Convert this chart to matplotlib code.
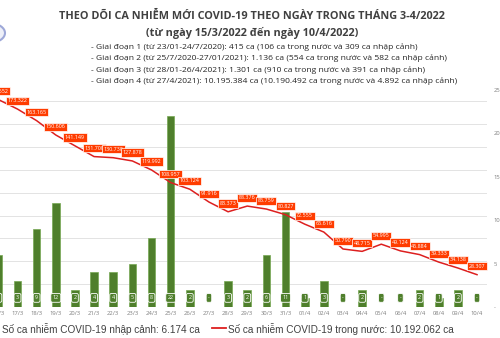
import matplotlib
matplotlib.use('Agg')
import matplotlib.pyplot as plt
import numpy as np
from matplotlib.lines import Line2D
from matplotlib.patches import Circle
from matplotlib.ticker import FuncFormatter, FixedLocator

plt.rcParams['font.family'] = ['Open Sans', 'DejaVu Sans']

# du lieu theo ngay 15/3 - 10/4/2022
dates = ['15/3', '16/3', '17/3', '18/3', '19/3', '20/3', '21/3', '22/3', '23/3',
         '24/3', '25/3', '26/3', '27/3', '28/3', '29/3', '30/3', '31/3',
         '01/4', '02/4', '03/4', '04/4', '05/4', '06/4', '07/4', '08/4', '09/4', '10/4']
# ca trong nuoc (duong do)
domestic = [170000, 181652, 173322, 163165, 150606, 141149, 131700, 130730, 127878,
            119992, 108957, 103124, 91916, 83373, 88376, 85759, 80827,
            72555, 65616, 50790, 48715, 54995, 49124, 45884, 39333, 34138, 28307]
# ca nhap canh (cot xanh)
imported = [4, 6, 3, 9, 12, 2, 4, 4, 5, 8, 22, 2, 0, 3, 2, 6, 11,
            1, 3, 0, 2, 0, 0, 2, 1, 2, 0]

title = 'THEO DÕI CA NHIỄM MỚI COVID-19 THEO NGÀY TRONG THÁNG 3-4/2022'
subtitle = '(từ ngày 15/3/2022 đến ngày 10/4/2022)'
notes = ['- Giai đoạn 1 (từ 23/01-24/7/2020): 415 ca (106 ca trong nước và 309 ca nhập cảnh)',
         '- Giai đoạn 2 (từ 25/7/2020-27/01/2021): 1.136 ca (554 ca trong nước và 582 ca nhập cảnh)',
         '- Giai đoạn 3 (từ 28/01-26/4/2021): 1.301 ca (910 ca trong nước và 391 ca nhập cảnh)',
         '- Giai đoạn 4 (từ 27/4/2021): 10.195.384 ca (10.190.492 ca trong nước và 4.892 ca nhập cảnh)']
legend_bar = 'Số ca nhiễm COVID-19 nhập cảnh: 6.174 ca'
legend_line = 'Số ca nhiễm COVID-19 trong nước: 10.192.062 ca'

W, H = 500, 338
GREEN = '#4f7f2c'
RED = '#dd1f1f'
LABEL_RED = '#ff3c00'


def fx(p):
    return p / W


def fy(p):
    return 1 - p / H


def vn(v):
    return f'{v:,}'.replace(',', '.')


fig = plt.figure(figsize=(5, 3.38), dpi=100, facecolor='white')

x = np.arange(len(dates))
line_max = 190000
bar_max = 25

# truc cot (ben phai)
ax = fig.add_axes([fx(-30.4), fy(307), fx(517), 217 / H])
ax.set_xlim(-0.5, len(dates) - 0.5)
ax.set_ylim(0, bar_max)
for g in range(20000, 180001, 20000):
    ax.axhline(g / line_max * bar_max, color='#e3e3e3', lw=0.7, zorder=0)
ax.axhline(0, color='#d9d9d9', lw=0.7, zorder=0)
ax.bar(x, imported, width=0.4, color=GREEN, edgecolor='#76a852', linewidth=0.5, zorder=2)
for xi, v in zip(x, imported):
    ax.text(xi, 1.05, str(v) if v else '-', ha='center', va='center', fontsize=3.9,
            color='white', zorder=3,
            bbox=dict(boxstyle='round,pad=0.35,rounding_size=0.3', fc=GREEN, ec='white', lw=0.6))
for s in ax.spines.values():
    s.set_visible(False)

# truc duong (an)
ax2 = ax.twinx()
ax2.set_ylim(0, line_max)
ax2.plot(x, domestic, color=RED, lw=1.1, zorder=3)
for xi, v in zip(x, domestic):
    ax2.annotate(vn(v), (xi, v), xytext=(0, 6), textcoords='offset points',
                 ha='center', va='center', fontsize=3.9, color='white', zorder=4,
                 bbox=dict(boxstyle='square,pad=0.3', fc=LABEL_RED, ec='white', lw=0.5))
ax2.set_yticks([])
for s in ax2.spines.values():
    s.set_visible(False)

# twinx chuyen nhan cua ax sang trai, dat lai ben phai
ax.yaxis.tick_right()
ax.yaxis.set_major_locator(FixedLocator([0, 5, 10, 15, 20, 25]))
ax.yaxis.set_major_formatter(FuncFormatter(lambda v, p: '-' if v == 0 else f'{v:.0f}'))
ax.set_xticks(x, dates)
ax.tick_params(axis='both', length=0, labelsize=4.2, labelcolor='#7f7f7f')
ax.tick_params(axis='x', pad=3)
ax.tick_params(axis='y', pad=5)

# tieu de
fig.text(fx(252), fy(16), title, ha='center', va='center', fontsize=7.8,
         fontweight='bold', color='#404040')
fig.text(fx(252), fy(33), subtitle, ha='center', va='center', fontsize=7.8,
         fontweight='bold', color='#404040')
for i, t in enumerate(notes):
    fig.text(fx(91), fy(47 + i * 11.5), t, ha='left', va='center', fontsize=6.1,
             color='#262626')

# logo
fig.patches.append(Circle((fx(-9), fy(33)), 14 / W, transform=fig.transFigure,
                          fc='#eef0f8', ec='#9ea8d8', lw=1.5))

# chu thich
fig.text(fx(2), fy(329), legend_bar, ha='left', va='center', fontsize=7.2,
         family=['Liberation Sans', 'DejaVu Sans'], color='#404040')
fig.add_artist(Line2D([fx(212), fx(226)], [fy(328), fy(328)], color=RED, lw=1.3))
fig.text(fx(228), fy(329), legend_line, ha='left', va='center', fontsize=7.2,
         family=['Liberation Sans', 'DejaVu Sans'], color='#404040')

fig.savefig('out.png', dpi=100)
